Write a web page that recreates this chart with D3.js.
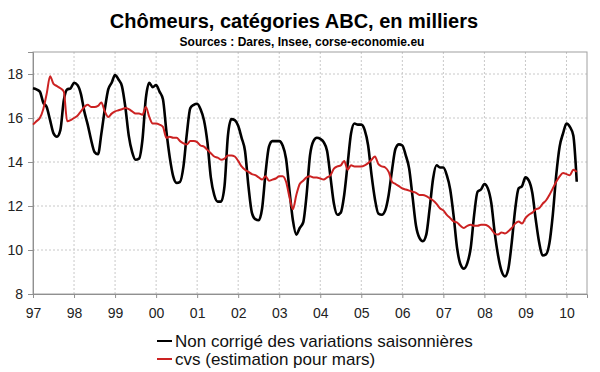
<!DOCTYPE html>
<html>
<head>
<meta charset="utf-8">
<script src="https://cdn.jsdelivr.net/npm/d3@7"></script>
<style>
  body { margin: 0; background: #fff; }
  svg text { font-family: "Liberation Sans", Arial, sans-serif; }
</style>
</head>
<body>
<svg></svg>
<script>
const width = 600,
    height = 372;

// monthly series, starting January 1997
const startYear = 1997;
const yearLabels = ["97", "98", "99", "00", "01", "02", "03", "04", "05", "06", "07", "08", "09", "10"];
const yTicks = [8, 10, 12, 14, 16, 18];

const brut = [
    17.35, 17.3, 17.2, 16.7, 16.5, 15.9, 15.3, 15.15, 15.45, 16.8, 17.3, 17.35,
    17.6, 17.5, 17.1, 16.3, 15.7, 15.0, 14.45, 14.35, 15.3, 16.4, 17.3, 17.6,
    17.95, 17.75, 17.45, 16.5, 15.2, 14.45, 14.1, 14.15, 15.0, 16.9, 17.6, 17.4,
    17.5, 17.2, 16.85, 15.4, 14.2, 13.35, 13.05, 13.1, 13.8, 15.3, 16.45, 16.6,
    16.65, 16.4, 15.9, 14.9, 13.3, 12.5, 12.2, 12.2, 12.9, 15.2, 15.95, 15.9,
    15.65, 15.1, 14.5, 12.9, 11.7, 11.4, 11.35, 11.9, 13.5, 14.7, 14.95, 14.95,
    14.95, 14.75, 14.15, 12.7, 11.35, 10.7, 11.0, 11.25, 12.5, 14.3, 14.95, 15.1,
    15.05, 14.9, 14.5, 13.3, 12.1, 11.6, 11.7, 12.5, 13.9, 15.3, 15.75, 15.7,
    15.7, 15.45, 14.75, 13.4, 12.3, 11.65, 11.6, 11.8, 12.5, 13.65, 14.6, 14.8,
    14.75, 14.3, 13.7, 12.4, 11.1, 10.55, 10.4, 10.7, 11.9, 13.25, 13.85, 13.75,
    13.75, 13.4, 12.75, 11.55, 10.1, 9.35, 9.15, 9.4, 10.1, 11.6, 12.65, 12.75,
    13.0, 12.8, 12.15, 10.8, 9.75, 9.05, 8.8, 9.15, 10.35, 11.85, 12.8, 12.9,
    13.3, 13.15, 12.6, 11.4, 10.35, 9.75, 9.8, 10.3, 11.6, 13.4, 14.7, 15.3,
    15.75, 15.6, 15.2, 13.1
];

const cvs = [
    15.7, 15.85, 16.0, 16.4, 17.1, 17.9, 17.55, 17.45, 17.35, 17.2, 15.85, 15.9,
    16.0, 16.1, 16.3, 16.5, 16.6, 16.5, 16.5, 16.55, 16.7, 16.3, 16.05, 16.2,
    16.3, 16.35, 16.4, 16.45, 16.4, 16.3, 16.2, 16.2, 16.15, 16.5, 16.05, 15.75,
    15.75, 15.7, 15.6, 15.1, 15.15, 15.1, 15.1, 14.95, 14.85, 14.8, 14.95, 14.95,
    14.9, 14.75, 14.7, 14.55, 14.4, 14.25, 14.2, 14.1, 14.15, 14.3, 14.3, 14.25,
    14.05, 13.8, 13.65, 13.55, 13.45, 13.4, 13.3, 13.2, 13.35, 13.15, 13.2, 13.25,
    13.35, 13.35, 13.1, 12.4, 11.85, 12.5, 13.0, 13.15, 13.3, 13.35, 13.3, 13.3,
    13.25, 13.2, 13.3, 13.4, 13.7, 13.8, 13.85, 14.05, 13.65, 13.85, 13.8, 13.8,
    13.8, 13.85, 13.95, 14.1, 14.25, 13.9, 13.8, 13.75, 13.55, 13.1, 13.0, 12.9,
    12.8, 12.75, 12.7, 12.65, 12.6, 12.5, 12.5, 12.45, 12.35, 12.25, 12.1, 11.9,
    11.8, 11.6, 11.45, 11.3, 11.25, 11.1, 11.0, 11.1, 11.15, 11.1, 11.1, 11.15,
    11.15, 11.1, 10.95, 10.75, 10.7, 10.8, 10.75, 10.85, 11.0, 11.2, 11.3, 11.2,
    11.45, 11.6, 11.7, 11.85, 11.9, 12.1, 12.25, 12.5, 12.8, 13.1, 13.35, 13.5,
    13.45, 13.4, 13.65, 13.55
];

const seriesNames = ["Non corrigé des variations saisonnières", "cvs (estimation pour mars)"];
const seriesColors = ["#000000", "#cc2222"];

const margin = {top: 52, right: 13, bottom: 78, left: 33};

const svg = d3.select("svg")
    .attr("width", width)
    .attr("height", height);

const x = d3.scaleLinear()
    .domain([startYear, startYear + 13.5])
    .range([margin.left, width - margin.right]);

const y = d3.scaleLinear()
    .domain([8, 19])
    .range([height - margin.bottom, margin.top]);

// titles
svg.append("text")
    .attr("x", 294).attr("y", 28)
    .attr("text-anchor", "middle")
    .attr("font-size", 20).attr("font-weight", "bold")
    .text("Chômeurs, catégories ABC, en milliers");

svg.append("text")
    .attr("x", 302).attr("y", 46)
    .attr("text-anchor", "middle")
    .attr("font-size", 12).attr("font-weight", "bold")
    .text("Sources : Dares, Insee, corse-economie.eu");

const yearTicks = yearLabels.map((d, i) => startYear + i);

// grid
svg.append("g")
    .selectAll("line")
    .data(yTicks.slice(1))
    .join("line")
    .attr("x1", margin.left).attr("x2", width - margin.right)
    .attr("y1", d => y(d)).attr("y2", d => y(d))
    .attr("stroke", "#c8c8c8")
    .attr("stroke-dasharray", "2,2");

svg.append("g")
    .selectAll("line")
    .data(yearTicks.slice(1))
    .join("line")
    .attr("x1", d => x(d)).attr("x2", d => x(d))
    .attr("y1", margin.top).attr("y2", height - margin.bottom)
    .attr("stroke", "#c8c8c8")
    .attr("stroke-dasharray", "2,2");

// frame
svg.append("rect")
    .attr("x", margin.left).attr("y", margin.top)
    .attr("width", width - margin.right - margin.left)
    .attr("height", height - margin.bottom - margin.top)
    .attr("fill", "none")
    .attr("stroke", "#a0a0a0");

// axes
const xAxis = svg.append("g")
    .attr("transform", `translate(0,${height - margin.bottom})`)
    .call(d3.axisBottom(x).tickValues(yearTicks).tickSize(4).tickPadding(10)
        .tickFormat((d, i) => yearLabels[i]));

const yAxis = svg.append("g")
    .attr("transform", `translate(${margin.left},0)`)
    .call(d3.axisLeft(y).tickValues(yTicks).tickSize(5).tickPadding(5));

[xAxis, yAxis].forEach(g => {
    g.select(".domain").attr("stroke", "#909090");
    g.selectAll(".tick line").attr("stroke", "#909090");
    g.selectAll("text").attr("font-size", 14).attr("fill", "#222")
        .attr("font-family", "Liberation Sans, Arial, sans-serif");
});

// lines
const line = d3.line()
    .x((d, i) => x(startYear + i / 12))
    .y(d => y(d))
    .curve(d3.curveMonotoneX);

[brut, cvs].forEach((s, k) => {
    svg.append("path")
        .datum(s)
        .attr("fill", "none")
        .attr("stroke", seriesColors[k])
        .attr("stroke-width", k === 0 ? 2.6 : 2)
        .attr("stroke-linejoin", "round")
        .attr("d", line);
});

// legend
const legend = svg.append("g").attr("transform", "translate(157,341)");
seriesNames.forEach((name, k) => {
    const row = legend.append("g").attr("transform", `translate(0,${k * 18})`);
    row.append("line")
        .attr("x1", 0).attr("x2", 15)
        .attr("stroke", seriesColors[k]).attr("stroke-width", 2);
    row.append("text")
        .attr("x", 18).attr("y", 6)
        .attr("font-size", 17).attr("fill", "#111")
        .text(name);
});
</script>
</body>
</html>
